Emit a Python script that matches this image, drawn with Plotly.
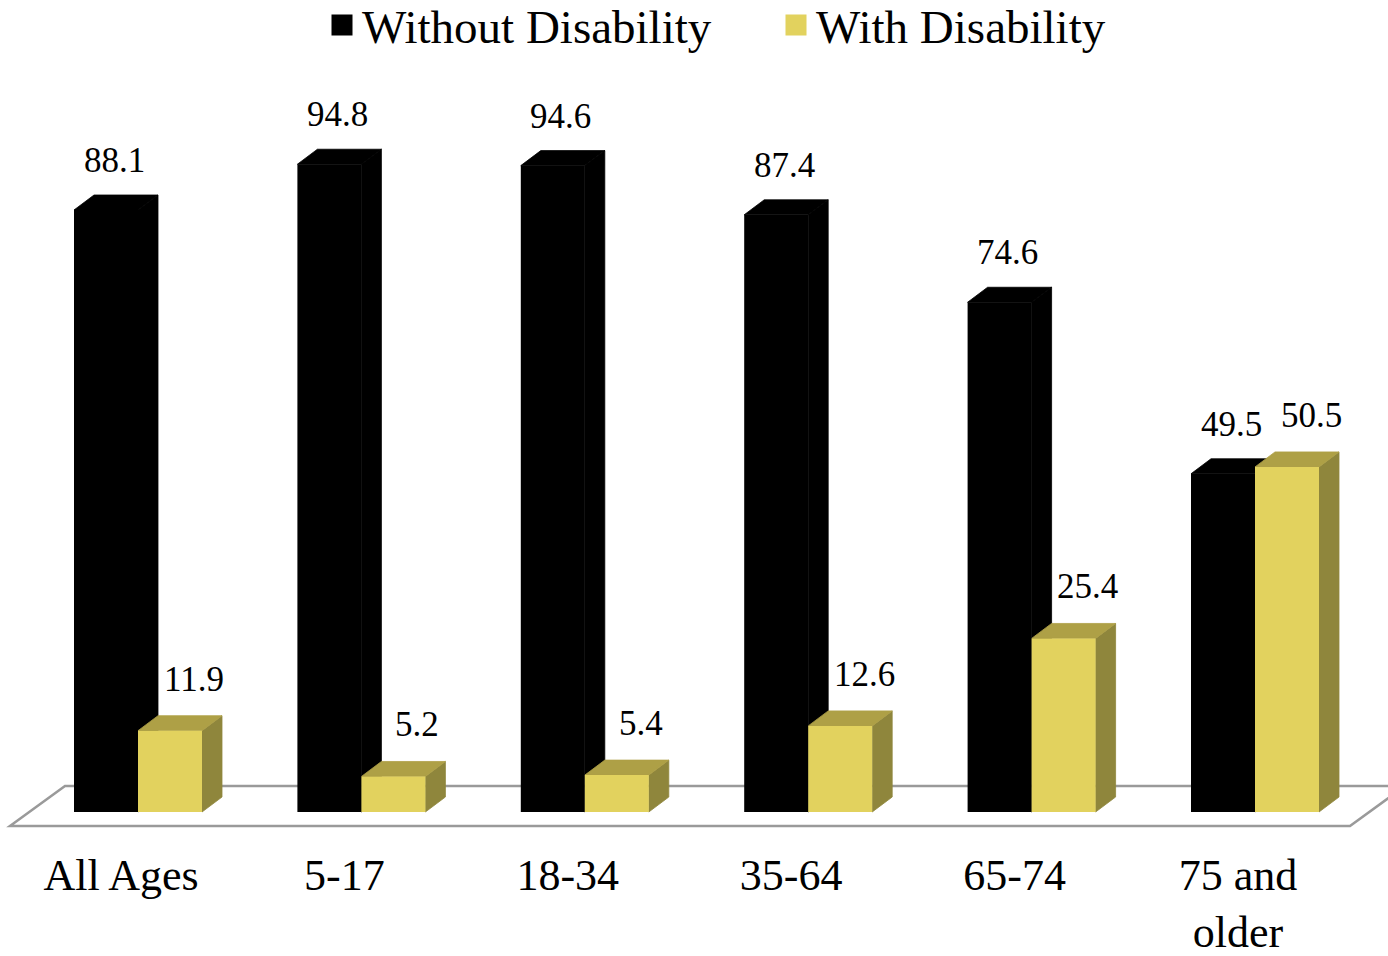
import plotly.graph_objects as go

# ---------------- data ----------------
categories = ["All Ages", "5-17", "18-34", "35-64", "65-74", "75 and<br>older"]
without_disability = [88.1, 94.8, 94.6, 87.4, 74.6, 49.5]
with_disability = [11.9, 5.2, 5.4, 12.6, 25.4, 50.5]
series_names = ["Without Disability", "With Disability"]

# ---------------- styling / geometry ----------------
W, H = 1388, 956
PX_X = 223.4      # pixels per category step
PX_Y = 6.833      # pixels per value unit
X0_PX = 138       # pixel x of first category (boundary between its two bars)
Y0_PX = 812       # pixel y of value 0

FONT = "Liberation Serif"
BLACK = "#000000"
Y_FRONT, Y_TOP, Y_SIDE = "#E2D25E", "#AEA046", "#8F863C"

bar_w = 64 / PX_X
dx = 20 / PX_X
dy = 15 / PX_Y
x_range = [-X0_PX / PX_X, (W - X0_PX) / PX_X]
y_range = [(Y0_PX - H) / PX_Y, Y0_PX / PX_Y]

idx = list(range(len(categories)))

fig = go.Figure()

# front faces drawn as real bars
fig.add_trace(go.Bar(x=idx, y=without_disability, width=bar_w, offset=-bar_w,
                     marker=dict(color=BLACK, line=dict(width=0)),
                     name=series_names[0], showlegend=False, hoverinfo="y"))
fig.add_trace(go.Bar(x=idx, y=with_disability, width=bar_w, offset=0,
                     marker=dict(color=Y_FRONT, line=dict(width=0)),
                     name=series_names[1], showlegend=False, hoverinfo="y"))

# legend entries (bigger square keys)
for nm, col in zip(series_names, [BLACK, Y_FRONT]):
    fig.add_trace(go.Scatter(x=[None], y=[None], mode="markers", name=nm,
                             marker=dict(symbol="square", size=16, color=col,
                                         line=dict(color=col, width=5))))

shapes = []
# floor (parallelogram)
fl_front, fl_back = -14 / PX_Y, 26 / PX_Y
fl_l = (10 - X0_PX) / PX_X
fl_r = (1350 - X0_PX) / PX_X
fl_d = 55 / PX_X
shapes.append(dict(type="path", xref="x", yref="y", layer="below",
                   path=f"M{fl_l},{fl_front} L{fl_r},{fl_front} L{fl_r+fl_d},{fl_back} L{fl_l+fl_d},{fl_back} Z",
                   fillcolor="white", line=dict(color="#9A9A9A", width=2.5)))


def faces(xl, xr, v, top_col, side_col):
    out = []
    out.append(dict(type="path", xref="x", yref="y", layer="below",
                    path=f"M{xr},0 L{xr+dx},{dy} L{xr+dx},{v+dy} L{xr},{v} Z",
                    fillcolor=side_col, line=dict(color=side_col, width=0.8)))
    out.append(dict(type="path", xref="x", yref="y", layer="below",
                    path=f"M{xl},{v} L{xl+dx},{v+dy} L{xr+dx},{v+dy} L{xr},{v} Z",
                    fillcolor=top_col, line=dict(color=top_col, width=0.8)))
    return out


for i, v in zip(idx, without_disability):
    shapes += faces(i - bar_w, i, v, BLACK, BLACK)
for i, v in zip(idx, with_disability):
    shapes += faces(i, i + bar_w, v, Y_TOP, Y_SIDE)

# value labels
annotations = []
for i, v in zip(idx, without_disability):
    annotations.append(dict(x=i - bar_w / 2, y=v, xref="x", yref="y", text=f"{v}",
                            showarrow=False, yanchor="bottom", xanchor="center",
                            xshift=8, yshift=28, font=dict(family=FONT, size=35, color="black")))
for i, v in zip(idx, with_disability):
    annotations.append(dict(x=i + bar_w / 2, y=v, xref="x", yref="y", text=f"{v}",
                            showarrow=False, yanchor="bottom", xanchor="center",
                            xshift=24, yshift=30, font=dict(family=FONT, size=35, color="black")))

fig.update_layout(
    template="none",
    width=W, height=H, autosize=False,
    margin=dict(l=0, r=0, t=0, b=0, pad=0, autoexpand=False),
    paper_bgcolor="white", plot_bgcolor="white",
    barmode="overlay",
    shapes=shapes, annotations=annotations,
    xaxis=dict(range=x_range, domain=[0, 1], anchor="free", position=1 - 845 / H,
               automargin=False,
               tickmode="array", tickvals=[i - 17 / PX_X for i in idx], ticktext=categories,
               showgrid=False, zeroline=False, showline=False, ticks="",
               tickfont=dict(family=FONT, size=44, color="black"), fixedrange=True),
    yaxis=dict(range=y_range, domain=[0, 1], visible=False, showgrid=False, automargin=False,
               zeroline=False, fixedrange=True),
    legend=dict(orientation="h", x=322 / W, xanchor="left", y=1 + 12 / H, yanchor="top",
                font=dict(family=FONT, size=47, color="black"),
                entrywidth=452 - 43, entrywidthmode="pixels",
                bgcolor="rgba(0,0,0,0)", itemsizing="trace"),
    showlegend=True,
)

fig.write_html("out.html")
